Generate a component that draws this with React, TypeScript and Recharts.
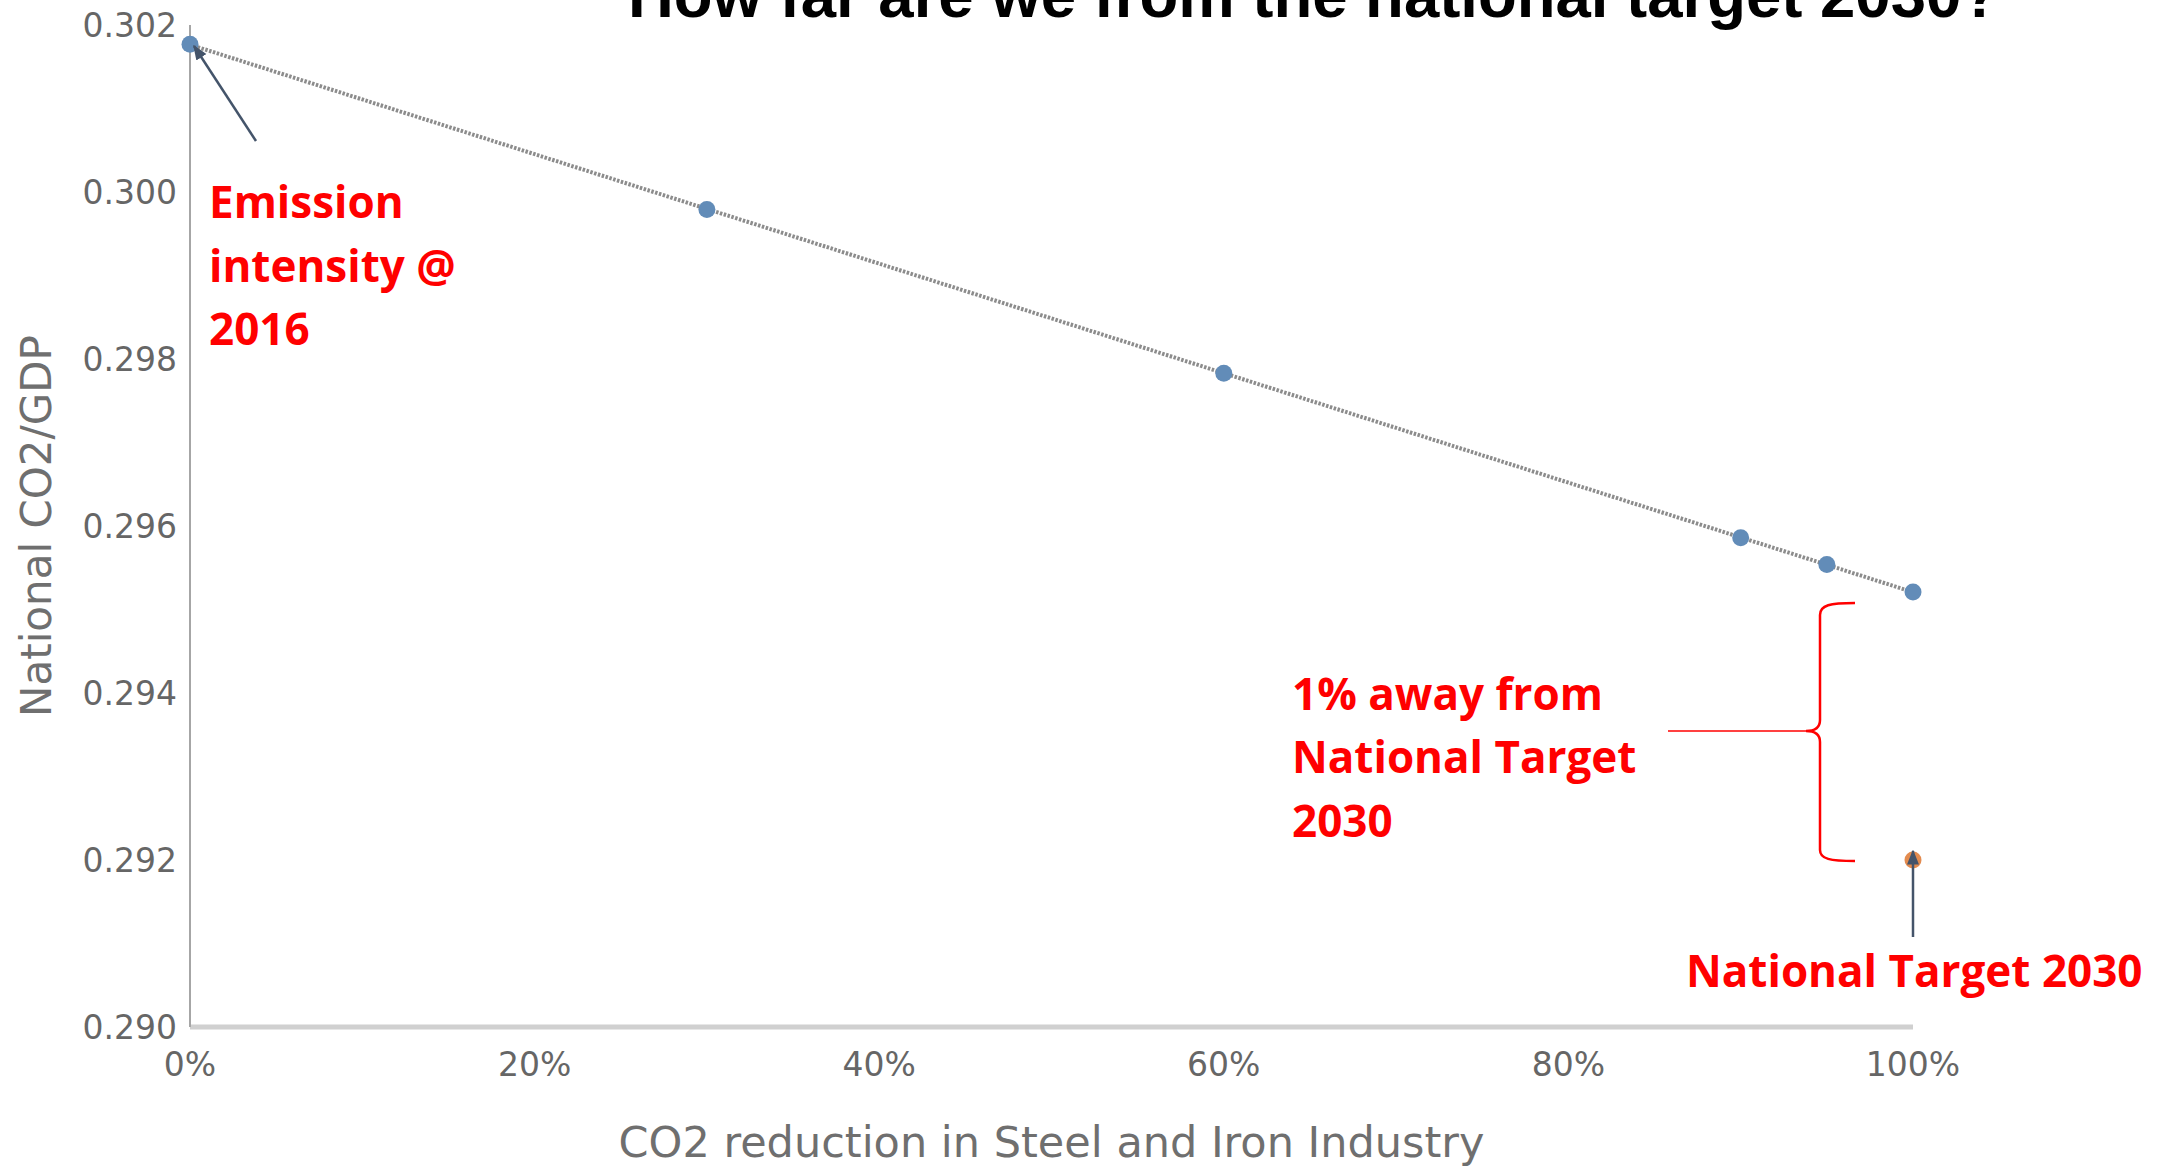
import React from 'react';
import { ScatterChart, Scatter, XAxis, YAxis } from 'recharts';

// CO2 reduction share in the steel & iron industry vs national CO2/GDP
const reductionShares = [0, 0.3, 0.6, 0.9, 0.95, 1];
const intensityValues = [0.30177, 0.29979, 0.29783, 0.29586, 0.29554, 0.29521];

const targetShares = [1];
const targetValues = [0.292];

const xTicks = [0, 0.2, 0.4, 0.6, 0.8, 1];
const yTicks = [0.29, 0.292, 0.294, 0.296, 0.298, 0.3, 0.302];

const W = 2174;
const H = 1171;

const AXIS_FONT = "'DejaVu Sans', sans-serif";
const NOTE_FONT = "'Open Sans', sans-serif";
const RED = '#ff0000';
const ARROW = '#44546a';

const chartData = reductionShares.map((x, i) => ({ x, y: intensityValues[i] }));
const targetData = targetShares.map((x, i) => ({ x, y: targetValues[i] }));

const dot = (color: string) => (props: any) => (
  <circle cx={props.cx} cy={props.cy} r={8.5} fill={color} />
);

const renderYTitle = (props: any) => {
  const vb = props.viewBox || { y: 25, height: 1002 };
  const cy = vb.y + vb.height / 2;
  return (
    <text
      transform={`translate(51 ${cy}) rotate(-90)`}
      textAnchor="middle"
      fontFamily={AXIS_FONT}
      fontSize={42}
      fill="#6f6f6f"
    >
      National CO2/GDP
    </text>
  );
};

const Notes = () => (
  <svg width={W} height={H} style={{ position: 'absolute', left: 0, top: 0, pointerEvents: 'none' }}>
    <defs>
      <marker id="arrowHead" viewBox="0 0 10 10" refX="9" refY="5" markerWidth="6" markerHeight="6" orient="auto">
        <path d="M0,1 L10,5 L0,9 z" fill={ARROW} />
      </marker>
    </defs>

    {/* title is cut at the top edge, same as the source slide */}
    <text x={628} y={17} fontFamily="'Liberation Sans', Arial, sans-serif" fontWeight="bold" fontSize={63} fill="#000" textLength={1372} lengthAdjust="spacingAndGlyphs">
      How far are we from the national target 2030?
    </text>

    {/* 2016 note */}
    <line x1={256} y1={141} x2={194} y2={46} stroke={ARROW} strokeWidth={2.5} markerEnd="url(#arrowHead)" />
    <g fontFamily={NOTE_FONT} fontWeight="bold" fontSize={44} fill={RED}>
      <text x={209} y={218}>Emission</text>
      <text x={209} y={282}>intensity @</text>
      <text x={209} y={345}>2016</text>
    </g>

    {/* gap note with brace */}
    <g fontFamily={NOTE_FONT} fontWeight="bold" fontSize={44} fill={RED}>
      <text x={1292} y={710}>1% away from</text>
      <text x={1292} y={773}>National Target</text>
      <text x={1292} y={837}>2030</text>
    </g>
    <line x1={1668} y1={731} x2={1808} y2={731} stroke={RED} strokeWidth={1.5} />
    <path
      d="M1855,603 C1830,603 1820,605 1820,615 L1820,720 C1820,728 1814,731 1806,731 C1814,731 1820,734 1820,742 L1820,850 C1820,859 1830,861 1855,861"
      fill="none"
      stroke={RED}
      strokeWidth={2.5}
    />

    {/* target note */}
    <line x1={1913} y1={937} x2={1913} y2={851} stroke={ARROW} strokeWidth={2.5} markerEnd="url(#arrowHead)" />
    <text x={1686} y={987} fontFamily={NOTE_FONT} fontWeight="bold" fontSize={44} fill={RED}>
      National Target 2030
    </text>
  </svg>
);

export default function App() {
  return (
    <div style={{ position: 'absolute', left: 0, top: 0, width: W, height: H, background: '#fff' }}>
      <ScatterChart width={W} height={H} margin={{ top: 25, right: 261, bottom: 0, left: 0 }}>
        <XAxis
          type="number"
          dataKey="x"
          domain={[0, 1]}
          ticks={xTicks}
          tickFormatter={(v: number) => `${Math.round(v * 100)}%`}
          height={144}
          axisLine={{ stroke: '#d0d0d0', strokeWidth: 5 }}
          tickLine={false}
          tickMargin={20}
          tick={{ fill: '#666666', fontSize: 33, fontFamily: AXIS_FONT }}
          label={{
            value: 'CO2 reduction in Steel and Iron Industry',
            position: 'insideBottom',
            offset: 14,
            fill: '#6f6f6f',
            fontSize: 43,
            fontFamily: AXIS_FONT,
          }}
        />
        <YAxis
          type="number"
          dataKey="y"
          domain={[0.29, 0.302]}
          ticks={yTicks}
          allowDataOverflow
          tickFormatter={(v: number) => v.toFixed(3)}
          width={190}
          axisLine={{ stroke: '#a6a6a6', strokeWidth: 2 }}
          tickLine={false}
          tickMargin={7}
          tick={{ fill: '#666666', fontSize: 33, fontFamily: AXIS_FONT }}
          label={{ content: renderYTitle }}
        />
        <Scatter
          data={chartData}
          fill="#628cb8"
          shape={dot('#628cb8')}
          line={{ stroke: '#8c8c8c', strokeWidth: 4, strokeDasharray: '2.5 1.5' }}
          lineType="fitting"
          isAnimationActive={false}
        />
        <Scatter data={targetData} fill="#e38b4f" shape={dot('#e38b4f')} isAnimationActive={false} />
      </ScatterChart>
      <Notes />
    </div>
  );
}
